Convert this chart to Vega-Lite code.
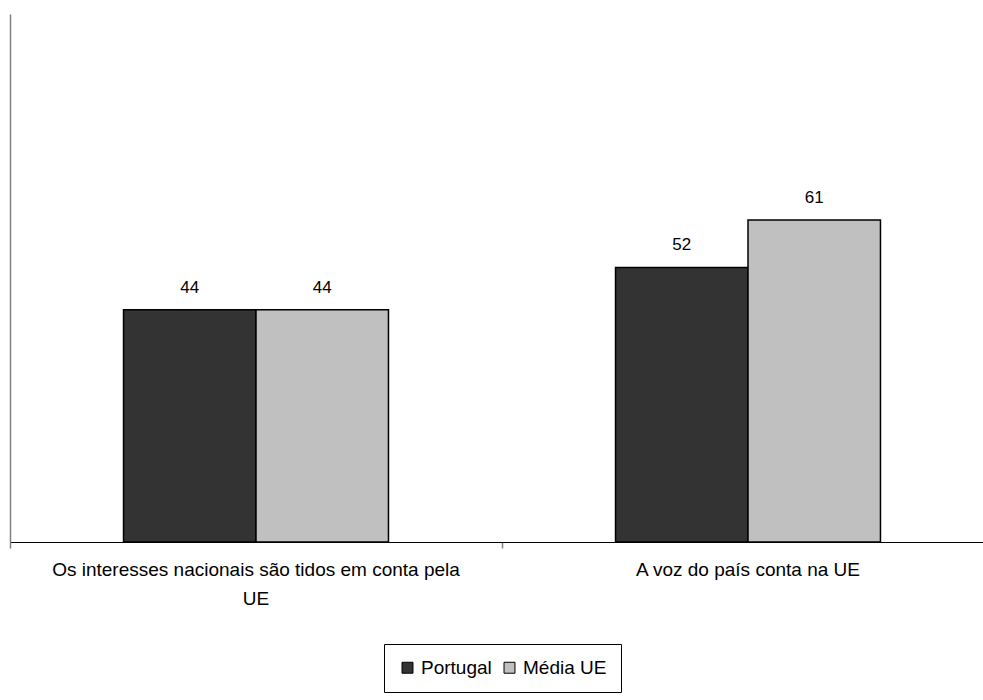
{
  "$schema": "https://vega.github.io/schema/vega-lite/v6.json",
  "autosize": {"type": "none"},
  "width": 973,
  "height": 528,
  "padding": {"left": 10, "top": 14, "right": 0, "bottom": 158},
  "background": "white",
  "config": {
    "view": {"stroke": null},
    "font": "Liberation Sans"
  },
  "data": {
    "values": [
      {"categoria": "Os interesses nacionais são tidos em conta pela UE", "serie": "Portugal", "valor": 44},
      {"categoria": "Os interesses nacionais são tidos em conta pela UE", "serie": "Média UE", "valor": 44},
      {"categoria": "A voz do país conta na UE", "serie": "Portugal", "valor": 52},
      {"categoria": "A voz do país conta na UE", "serie": "Média UE", "valor": 61}
    ]
  },
  "encoding": {
    "x": {
      "field": "categoria",
      "type": "nominal",
      "sort": null,
      "scale": {"paddingInner": 0, "paddingOuter": 0, "range": [0, 984]},
      "axis": {
        "title": null,
        "bandPosition": 0,
        "labelAngle": 0,
        "labelFontSize": 19,
        "labelColor": "black",
        "labelPadding": 12,
        "labelLimit": 600,
        "labelLineHeight": 29,
        "labelAlign": "center",
        "labelBaseline": "top",
        "labelFlush": false,
        "labelOverlap": false,
        "labelExpr": "datum.value == 'Os interesses nacionais são tidos em conta pela UE' ? ['Os interesses nacionais são tidos em conta pela', 'UE'] : datum.value",
        "domainColor": "black",
        "domainWidth": 1,
        "tickColor": "#808080",
        "tickSize": 6,
        "tickWidth": 1.5,
        "grid": false
      }
    },
    "xOffset": {
      "field": "serie",
      "type": "nominal",
      "sort": ["Portugal", "Média UE"],
      "scale": {"paddingInner": 0, "paddingOuter": 0.857}
    },
    "y": {
      "field": "valor",
      "type": "quantitative",
      "scale": {"domain": [0, 100], "nice": false},
      "axis": {
        "title": null,
        "labels": false,
        "ticks": false,
        "grid": false,
        "domainColor": "#808080",
        "domainWidth": 1.5
      }
    }
  },
  "layer": [
    {
      "mark": {"type": "bar", "stroke": "black", "strokeWidth": 1.5},
      "encoding": {
        "color": {
          "field": "serie",
          "type": "nominal",
          "sort": ["Portugal", "Média UE"],
          "scale": {"domain": ["Portugal", "Média UE"], "range": ["#333333", "#c0c0c0"]},
          "legend": {
            "title": null,
            "orient": "none",
            "legendX": 374,
            "legendY": 630,
            "direction": "horizontal",
            "symbolType": "square",
            "symbolSize": 120,
            "symbolStrokeColor": "black",
            "symbolStrokeWidth": 1,
            "labelFontSize": 19,
            "labelColor": "black",
            "labelOffset": 4,
            "columnPadding": 8,
            "strokeColor": "black",
            "padding": 14,
            "fillColor": "white"
          }
        }
      }
    },
    {
      "mark": {"type": "text", "baseline": "bottom", "dy": -13, "fontSize": 17, "color": "black"},
      "encoding": {
        "text": {"field": "valor", "type": "quantitative"}
      }
    }
  ]
}
